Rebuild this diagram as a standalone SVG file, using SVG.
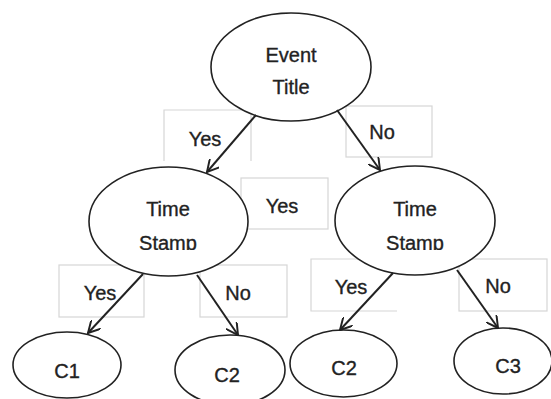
<svg xmlns="http://www.w3.org/2000/svg" width="551" height="399" viewBox="0 0 551 399">
<style>
.lbl{fill:none;stroke:#d6d6d6;stroke-width:1.2}
.node{fill:#fff;stroke:#222;stroke-width:1.6}
.edge{stroke:#222;stroke-width:2;fill:none;marker-end:url(#arr)}
text{font-family:"Liberation Sans",Arial,sans-serif;font-size:20px;fill:#222;stroke:#222;stroke-width:0.35;text-anchor:middle}
</style>
<defs>
<marker id="arr" viewBox="0 0 12 12" refX="11" refY="6" markerWidth="13" markerHeight="13" markerUnits="userSpaceOnUse" orient="auto">
<path d="M0,0 L11,6 L0,12" fill="none" stroke="#222" stroke-width="1.8"/>
</marker>
<clipPath id="clipL"><rect x="80" y="150" width="180" height="100"/></clipPath>
<clipPath id="clipR"><rect x="325" y="150" width="180" height="100"/></clipPath>
</defs>
<g id="labels">
<path class="lbl" d="M164,161 V110 H251 V161"/>
<rect class="lbl" x="346" y="106" width="86" height="51"/>
<rect class="lbl" x="241" y="178" width="87" height="51"/>
<rect class="lbl" x="59" y="265" width="85" height="52"/>
<rect class="lbl" x="200" y="265" width="87" height="52"/>
<path class="lbl" d="M397,311 H311 V259 H380"/>
<rect class="lbl" x="459" y="259" width="88" height="52"/>
</g>
<g id="n-event"><ellipse class="node" cx="291" cy="67" rx="80" ry="54"/><text x="291" y="62">Event</text><text x="291" y="94">Title</text></g>
<g id="n-ts1"><ellipse class="node" cx="168.5" cy="221.5" rx="79.5" ry="54.5"/><text x="168" y="216">Time</text><text x="168" y="250" clip-path="url(#clipL)">Stamp</text></g>
<g id="n-ts2"><ellipse class="node" cx="415" cy="220.5" rx="80" ry="54.5"/><text x="415" y="216">Time</text><text x="415" y="250" clip-path="url(#clipR)">Stamp</text></g>
<g id="n-c1"><ellipse class="node" cx="67" cy="365" rx="54" ry="33"/><text x="67" y="378">C1</text></g>
<g id="n-c2a"><ellipse class="node" cx="230" cy="370" rx="55" ry="35"/><text x="227" y="382">C2</text></g>
<g id="n-c2b"><ellipse class="node" cx="343.5" cy="363.5" rx="53.5" ry="33.5"/><text x="344" y="375">C2</text></g>
<g id="n-c3"><ellipse class="node" cx="503" cy="361" rx="49" ry="33"/><text x="508" y="373">C3</text></g>
<g id="connectors">
<line class="edge" x1="256" y1="115" x2="207" y2="172"/>
<line class="edge" x1="337" y1="110" x2="380" y2="170"/>
<line class="edge" x1="143" y1="274" x2="88" y2="333"/>
<line class="edge" x1="197" y1="275" x2="238" y2="335"/>
<line class="edge" x1="393" y1="273" x2="340" y2="330"/>
<line class="edge" x1="457" y1="270" x2="498" y2="328"/>
</g>
<g id="edge-labels">
<text x="205" y="146">Yes</text>
<text x="382" y="139">No</text>
<text x="282" y="213">Yes</text>
<text x="100" y="300">Yes</text>
<text x="238" y="300">No</text>
<text x="351" y="294">Yes</text>
<text x="498" y="293">No</text>
</g>
</svg>
